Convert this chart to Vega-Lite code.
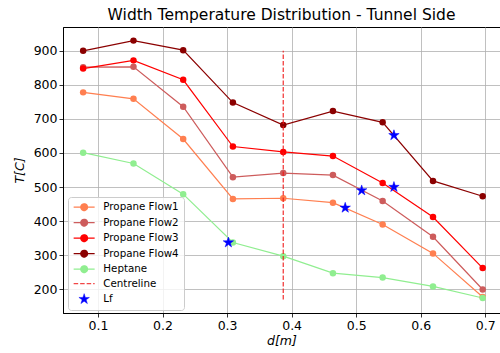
{
  "$schema": "https://vega.github.io/schema/vega-lite/v6.json",
  "autosize": "none",
  "width": 437,
  "height": 286,
  "padding": {"left": 63, "top": 27, "right": 0, "bottom": 40},
  "background": "white",
  "title": {
    "text": "Width Temperature Distribution - Tunnel Side",
    "font": "DejaVu Sans",
    "fontSize": 15.5,
    "fontWeight": "normal",
    "color": "black",
    "anchor": "middle",
    "offset": 4
  },
  "config": {
    "font": "DejaVu Sans",
    "view": {"stroke": "black", "strokeWidth": 1},
    "axis": {
      "grid": true,
      "gridColor": "#b0b0b0",
      "gridWidth": 0.8,
      "domainColor": "black",
      "domainWidth": 1,
      "tickColor": "black",
      "tickSize": 4,
      "tickWidth": 0.8,
      "labelFont": "DejaVu Sans",
      "labelFontSize": 12.5,
      "labelColor": "black",
      "labelPadding": 2,
      "titleFont": "DejaVu Sans",
      "titleFontSize": 12.5,
      "titleFontWeight": "normal",
      "titleFontStyle": "italic",
      "titleColor": "black"
    }
  },
  "datasets": {
    "flows": [
      {"series": "Propane Flow1", "d": 0.077, "T": 778},
      {"series": "Propane Flow1", "d": 0.155, "T": 759},
      {"series": "Propane Flow1", "d": 0.232, "T": 641},
      {"series": "Propane Flow1", "d": 0.309, "T": 465},
      {"series": "Propane Flow1", "d": 0.387, "T": 467},
      {"series": "Propane Flow1", "d": 0.464, "T": 454},
      {"series": "Propane Flow1", "d": 0.541, "T": 390},
      {"series": "Propane Flow1", "d": 0.619, "T": 305},
      {"series": "Propane Flow1", "d": 0.696, "T": 177},
      {"series": "Propane Flow2", "d": 0.077, "T": 852},
      {"series": "Propane Flow2", "d": 0.155, "T": 853},
      {"series": "Propane Flow2", "d": 0.232, "T": 736},
      {"series": "Propane Flow2", "d": 0.309, "T": 529},
      {"series": "Propane Flow2", "d": 0.387, "T": 541},
      {"series": "Propane Flow2", "d": 0.464, "T": 535},
      {"series": "Propane Flow2", "d": 0.541, "T": 459},
      {"series": "Propane Flow2", "d": 0.619, "T": 354},
      {"series": "Propane Flow2", "d": 0.696, "T": 199},
      {"series": "Propane Flow3", "d": 0.077, "T": 848},
      {"series": "Propane Flow3", "d": 0.155, "T": 872},
      {"series": "Propane Flow3", "d": 0.232, "T": 815},
      {"series": "Propane Flow3", "d": 0.309, "T": 619},
      {"series": "Propane Flow3", "d": 0.387, "T": 603},
      {"series": "Propane Flow3", "d": 0.464, "T": 591},
      {"series": "Propane Flow3", "d": 0.541, "T": 512},
      {"series": "Propane Flow3", "d": 0.619, "T": 412},
      {"series": "Propane Flow3", "d": 0.696, "T": 262},
      {"series": "Propane Flow4", "d": 0.077, "T": 900},
      {"series": "Propane Flow4", "d": 0.155, "T": 930},
      {"series": "Propane Flow4", "d": 0.232, "T": 902},
      {"series": "Propane Flow4", "d": 0.309, "T": 748},
      {"series": "Propane Flow4", "d": 0.387, "T": 682},
      {"series": "Propane Flow4", "d": 0.464, "T": 723},
      {"series": "Propane Flow4", "d": 0.541, "T": 690},
      {"series": "Propane Flow4", "d": 0.619, "T": 518},
      {"series": "Propane Flow4", "d": 0.696, "T": 473},
      {"series": "Heptane", "d": 0.077, "T": 601},
      {"series": "Heptane", "d": 0.155, "T": 569},
      {"series": "Heptane", "d": 0.232, "T": 479},
      {"series": "Heptane", "d": 0.309, "T": 337},
      {"series": "Heptane", "d": 0.387, "T": 297},
      {"series": "Heptane", "d": 0.464, "T": 247},
      {"series": "Heptane", "d": 0.541, "T": 234},
      {"series": "Heptane", "d": 0.619, "T": 208},
      {"series": "Heptane", "d": 0.696, "T": 174}
    ],
    "centre": [
      {"series": "Centreline", "d": 0.387, "Tlow": 170, "Thigh": 900}
    ],
    "flameLength": [
      {"series": "Lf", "d": 0.302, "T": 337},
      {"series": "Lf", "d": 0.483, "T": 439},
      {"series": "Lf", "d": 0.5085, "T": 490},
      {"series": "Lf", "d": 0.5585, "T": 500},
      {"series": "Lf", "d": 0.5585, "T": 652}
    ]
  },
  "layer": [
    {
      "data": {"name": "flows"},
      "mark": {"type": "line", "strokeWidth": 1.2, "point": {"filled": true, "size": 42, "opacity": 1}},
      "encoding": {
        "x": {
          "field": "d", "type": "quantitative",
          "scale": {"domain": [0.0458, 0.7228], "nice": false, "zero": false},
          "axis": {"values": [0.1, 0.2, 0.3, 0.4, 0.5, 0.6, 0.7], "format": ".1f", "title": "d[m]", "titlePadding": 3}
        },
        "y": {
          "field": "T", "type": "quantitative",
          "scale": {"domain": [130, 970], "nice": false, "zero": false},
          "axis": {"values": [200, 300, 400, 500, 600, 700, 800, 900], "title": "T[C]", "titlePadding": 7}
        },
        "color": {
          "field": "series", "type": "nominal",
          "scale": {
            "domain": ["Propane Flow1", "Propane Flow2", "Propane Flow3", "Propane Flow4", "Heptane", "Centreline", "Lf"],
            "range": ["#ff7f50", "#cd5c5c", "#ff0000", "#8b0000", "#90ee90", "#f01818", "#0000ff"]
          },
          "legend": {
            "title": null,
            "orient": "none",
            "legendX": 5,
            "legendY": 170,
            "direction": "vertical",
            "padding": 5,
            "fillColor": "rgba(255,255,255,0.8)",
            "strokeColor": "#cccccc",
            "cornerRadius": 3,
            "labelFont": "DejaVu Sans",
            "labelFontSize": 10.3,
            "labelColor": "black",
            "labelOffset": 14,
            "symbolSize": 100,
            "symbolOffset": 6,
            "rowPadding": 2.5,
            "symbolStrokeWidth": 1.4,
            "encode": {
              "symbols": {
                "update": {
                  "shape": {"signal": "datum.value === 'Lf' ? 'M0,-1L0.2245,-0.309L0.951,-0.309L0.3633,0.118L0.588,0.809L0,0.382L-0.588,0.809L-0.3633,0.118L-0.951,-0.309L-0.2245,-0.309Z' : (datum.value === 'Centreline' ? 'M-2.1,0L2.1,0' : 'M-2.1,0L2.1,0M0.66,0A0.66,0.66,0,1,1,-0.66,0A0.66,0.66,0,1,1,0.66,0')"},
                  "size": {"signal": "datum.value === 'Lf' ? 121 : 100"},
                  "fill": {"signal": "datum.value === 'Centreline' ? 'transparent' : scale('color', datum.value)"},
                  "stroke": {"signal": "scale('color', datum.value)"},
                  "strokeDash": {"signal": "datum.value === 'Centreline' ? [4.5, 2] : [1, 0]"},
                  "strokeWidth": {"signal": "datum.value === 'Lf' ? 0.5 : 1.4"},
                  "opacity": {"signal": "datum.value === 'Centreline' ? 0.8 : 1"},
                  "fillOpacity": {"value": 1}
                }
              }
            }
          }
        }
      }
    },
    {
      "data": {"name": "centre"},
      "mark": {"type": "rule", "strokeDash": [4.5, 2], "strokeWidth": 1.2, "opacity": 0.9},
      "encoding": {
        "x": {"field": "d", "type": "quantitative"},
        "y": {"field": "Tlow", "type": "quantitative"},
        "y2": {"field": "Thigh"},
        "color": {"field": "series", "type": "nominal"}
      }
    },
    {
      "data": {"name": "flameLength"},
      "mark": {
        "type": "point",
        "shape": "M0,-1L0.2245,-0.309L0.951,-0.309L0.3633,0.118L0.588,0.809L0,0.382L-0.588,0.809L-0.3633,0.118L-0.951,-0.309L-0.2245,-0.309Z",
        "filled": true, "size": 121, "opacity": 1, "strokeWidth": 0.5
      },
      "encoding": {
        "x": {"field": "d", "type": "quantitative"},
        "y": {"field": "T", "type": "quantitative"},
        "color": {"field": "series", "type": "nominal"},
        "stroke": {"value": "#0000ff"}
      }
    }
  ]
}
